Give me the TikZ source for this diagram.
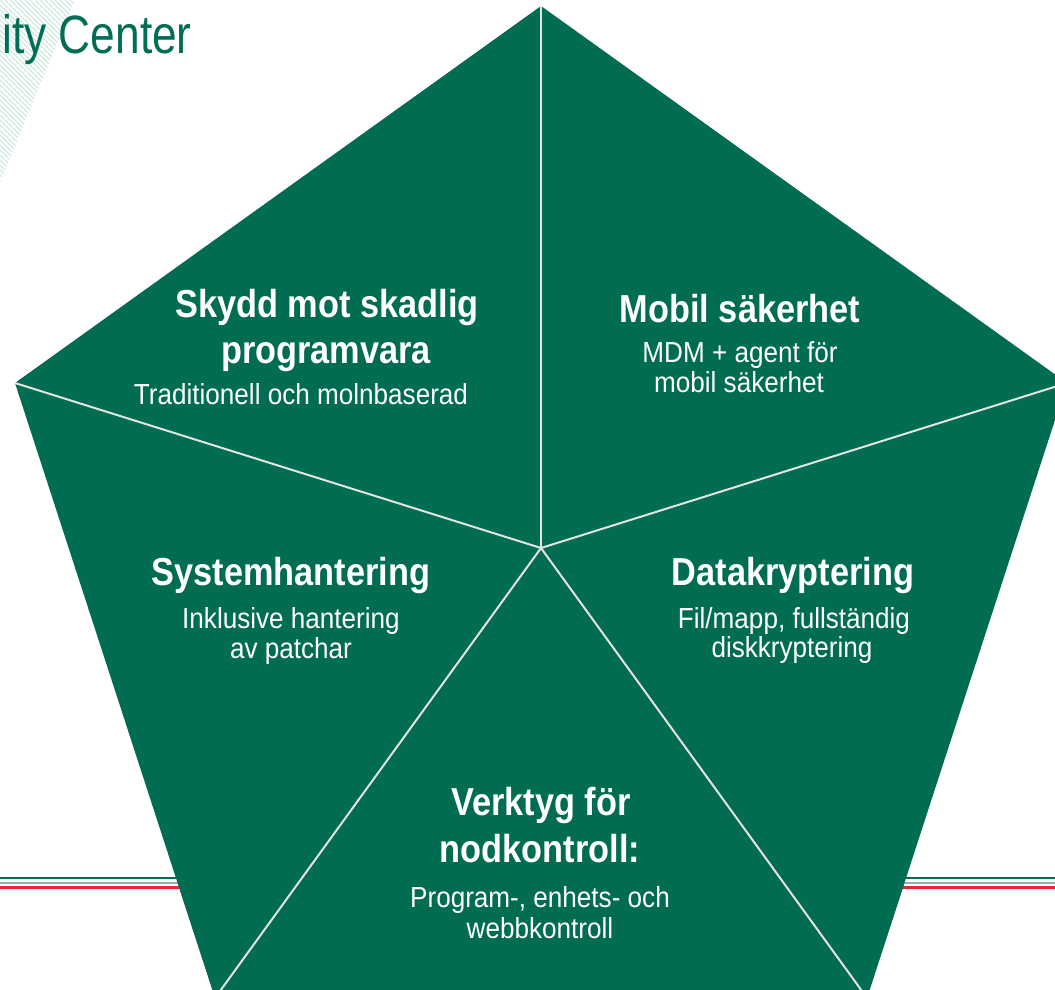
\documentclass[tikz,border=0pt]{standalone}
\usepackage{fontspec}
\setmainfont{Liberation Sans}
\newfontfamily\ttlfont{Liberation Sans}[FakeStretch=0.88]
\newfontfamily\subfont{Liberation Sans}[FakeStretch=0.90]
\newfontfamily\hdrfont{Liberation Sans}[FakeStretch=0.82]
\definecolor{kgreen}{RGB}{0,108,82}
\definecolor{hdrgreen}{RGB}{0,110,84}
\definecolor{hatchc}{RGB}{208,234,224}
\definecolor{spokec}{RGB}{228,228,224}
\definecolor{kred}{RGB}{232,40,56}
\definecolor{kgray}{RGB}{165,165,165}
\tikzset{
  ttl/.style={anchor=base, inner sep=0pt, text=white, font=\ttlfont\bfseries\fontsize{39}{46}\selectfont},
  sub/.style={anchor=base, inner sep=0pt, text=white, font=\subfont\fontsize{29}{34}\selectfont},
  spoke/.style={draw=spokec, line width=2pt},
  hatchline/.style={draw=hatchc, line width=1.4pt},
}
\begin{document}
\begin{tikzpicture}[x=1pt,y=-1pt]
\useasboundingbox (0,0) rectangle (1055,989);
\clip (0,0) rectangle (1055,989);
\fill[white] (0,0) rectangle (1055,989);
% hatch
\begin{scope}
\clip (0,0) -- (75,0) -- (0,182) -- cycle;
\foreach \i in {-200,-195,...,80} {\draw[hatchline] (\i,0) -- (\i+200,200);}
\end{scope}
% header text
\node[anchor=base east, inner sep=0pt, text=hdrgreen, font=\hdrfont\fontsize{54}{60}\selectfont] (hdr) at (192,53) {ity Center};
% coordinates
\coordinate (T) at (541,6);
\coordinate (L) at (15,383);
\coordinate (R) at (1067,383);
\coordinate (BL) at (215,998);
\coordinate (BR) at (867,998);
\coordinate (C) at (541,548);
% horizontal rules
\draw[hdrgreen, line width=2pt] (0,878) -- (1055,878);
\draw[kgray, line width=2.5pt] (0,883) -- (1055,883);
\draw[kred, line width=2.6pt] (0,887.5) -- (180.5,887.5) -- (217,999);
\draw[kred, line width=2.6pt] (1055,887.5) -- (901.5,887.5) -- (865,999);
% pentagon
\fill[kgreen] (T) -- (R) -- (BR) -- (BL) -- (L) -- cycle;
\draw[spoke] (C) -- (T);
\draw[spoke] (C) -- (L);
\draw[spoke] (C) -- (R);
\draw[spoke] (C) -- (BL);
\draw[spoke] (C) -- (BR);
% texts
\node[ttl] (a1) at (327,317) {Skydd mot skadlig};
\node[ttl] (a2) at (326,363) {programvara};
\node[sub] (a3) at (301,404) {Traditionell och molnbaserad};
\node[ttl] (b1) at (740,322) {Mobil säkerhet};
\node[sub] (b2) at (740,362) {MDM + agent för};
\node[sub] (b3) at (739,392) {mobil säkerhet};
\node[ttl] (c1) at (291,585) {Systemhantering};
\node[sub] (c2) at (291,628) {Inklusive hantering};
\node[sub] (c3) at (291,658) {av patchar};
\node[ttl] (d1) at (793,585) {Datakryptering};
\node[sub] (d2) at (794,628) {Fil/mapp, fullständig};
\node[sub] (d3) at (792,657) {diskkryptering};
\node[ttl] (e1) at (541,815) {Verktyg för};
\node[ttl] (e2) at (540,862) {nodkontroll:};
\node[sub] (e3) at (540,907) {Program-, enhets- och};
\node[sub] (e4) at (540,938) {webbkontroll};
\end{tikzpicture}
\end{document}
